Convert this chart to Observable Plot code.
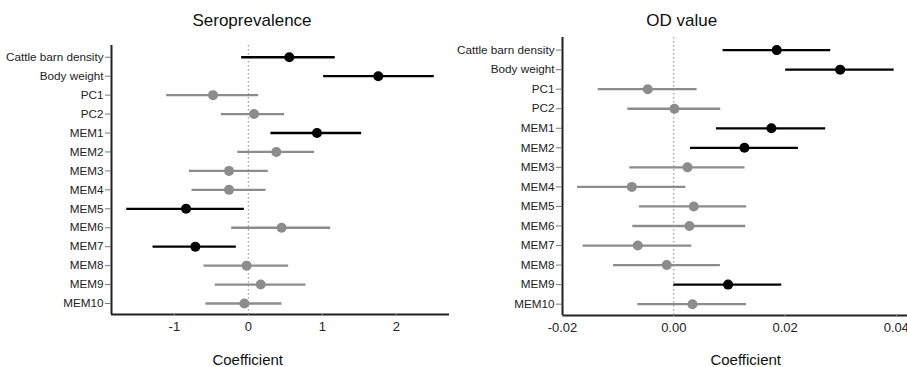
<!DOCTYPE html>
<html><head><meta charset="utf-8">
<script src="https://cdn.jsdelivr.net/npm/d3@7"></script>
<script src="https://cdn.jsdelivr.net/npm/@observablehq/plot@0.6"></script>
<style>
body{margin:0;background:#fff;font-family:"Liberation Sans",Arial,sans-serif;}
#wrap{position:relative;width:907px;height:367px;overflow:hidden;background:#fff;}
#wrap svg{position:absolute;top:0;}
.t{position:absolute;color:#111;white-space:nowrap;transform:translateX(-50%);line-height:1;font-family:"Liberation Sans",Arial,sans-serif;}
</style></head><body>
<div id="wrap"></div>
<script>
const variables = ["Cattle barn density","Body weight","PC1","PC2","MEM1","MEM2","MEM3","MEM4","MEM5","MEM6","MEM7","MEM8","MEM9","MEM10"];

const seroEst  = [0.554, 1.757, -0.477, 0.077, 0.928, 0.378, -0.261, -0.261, -0.842, 0.450, -0.716, -0.023, 0.167, -0.054];
const seroLow  = [-0.090, 1.018, -1.104, -0.365, 0.306, -0.144, -0.797, -0.761, -1.644, -0.225, -1.288, -0.599, -0.446, -0.572];
const seroHigh = [1.176, 2.514, 0.140, 0.491, 1.532, 0.896, 0.270, 0.239, -0.054, 1.113, -0.162, 0.545, 0.779, 0.455];
const seroSig  = [true, true, false, false, true, false, false, false, true, false, true, false, false, false];
const seroTicks = [-1, 0, 1, 2];

const odEst  = [0.0185, 0.0299, -0.00467, 0.00012, 0.01754, 0.0127, 0.00246, -0.00754, 0.00359, 0.00281, -0.00647, -0.00126, 0.00976, 0.00335];
const odLow  = [0.00886, 0.0201, -0.01359, -0.00826, 0.00766, 0.0030, -0.0079, -0.0173, -0.00617, -0.00737, -0.01629, -0.01084, 0.0000, -0.00647];
const odHigh = [0.0282, 0.0396, 0.00419, 0.00844, 0.0273, 0.0224, 0.0128, 0.00216, 0.0131, 0.01293, 0.00323, 0.00838, 0.0194, 0.01305];
const odSig  = [true, true, false, false, true, true, false, false, false, false, false, false, true, false];
const odTicks = [-0.02, 0, 0.02, 0.04];

const BLACK = "#000000", GREY = "#8c8c8c";

function panel(o) {
  const rows = variables.map((v, i) => ({i, v, est: o.est[i], low: o.low[i], high: o.high[i], c: o.sig[i] ? BLACK : GREY}));
  return Plot.plot({
    width: o.width, height: 367,
    marginLeft: o.marginLeft, marginRight: o.marginRight,
    marginTop: o.marginTop, marginBottom: o.marginBottom,
    style: {fontFamily: "'Liberation Sans', Arial, sans-serif", color: "#222", background: "transparent"},
    x: {domain: o.xDomain},
    y: {type: "linear", domain: o.yDomain},
    marks: [
      Plot.ruleX([0], {stroke: "#8a8a8a", strokeWidth: 1, strokeDasharray: "1.5,2.5"}),
      Plot.ruleY(rows, {y: "i", x1: "low", x2: "high", stroke: "c", strokeWidth: 2.3}),
      Plot.dot(rows, {x: "est", y: "i", r: 5, fill: "c", stroke: null}),
      Plot.ruleX([o.xDomain[0]], {stroke: "#222", strokeWidth: 2}),
      Plot.ruleY([o.yDomain[0]], {stroke: "#222", strokeWidth: 2}),
      Plot.axisY({ticks: d3.range(variables.length), tickFormat: i => variables[i], tickSize: 6, tickPadding: 2, fontSize: 11.7, label: null, stroke: "#777"}),
      Plot.axisX({ticks: o.ticks, tickFormat: o.tickFormat, tickSize: 2, tickPadding: 5, fontSize: 13, label: null, stroke: "#999"})
    ]
  });
}

const hyphen = f => d => f(d).replace("\u2212", "-");

const wrap = document.getElementById("wrap");
const left = panel({est: seroEst, low: seroLow, high: seroHigh, sig: seroSig,
  width: 452, marginLeft: 111, marginRight: 3, marginTop: 45, marginBottom: 53,
  xDomain: [-1.85, 2.72], yDomain: [13.58, -0.62], ticks: seroTicks, tickFormat: hyphen(d3.format("d"))});
left.style.left = "0px";
wrap.appendChild(left);

const right = panel({est: odEst, low: odLow, high: odHigh, sig: odSig,
  width: 457, marginLeft: 112, marginRight: 0, marginTop: 37, marginBottom: 52,
  xDomain: [-0.02, 0.042], yDomain: [13.58, -0.645], ticks: odTicks, tickFormat: hyphen(d3.format(".2f"))});
right.style.left = "450px";
wrap.appendChild(right);

function label(text, x, top, size) {
  const d = document.createElement("div");
  d.className = "t";
  d.textContent = text;
  d.style.left = x + "px";
  d.style.top = top + "px";
  d.style.fontSize = size + "px";
  wrap.appendChild(d);
}
label("Seroprevalence", 252, 12.3, 17);
label("OD value", 681.7, 12.3, 17);
label("Coefficient", 247.7, 351.6, 15);
label("Coefficient", 745.7, 351.6, 15);
</script>
</body></html>
